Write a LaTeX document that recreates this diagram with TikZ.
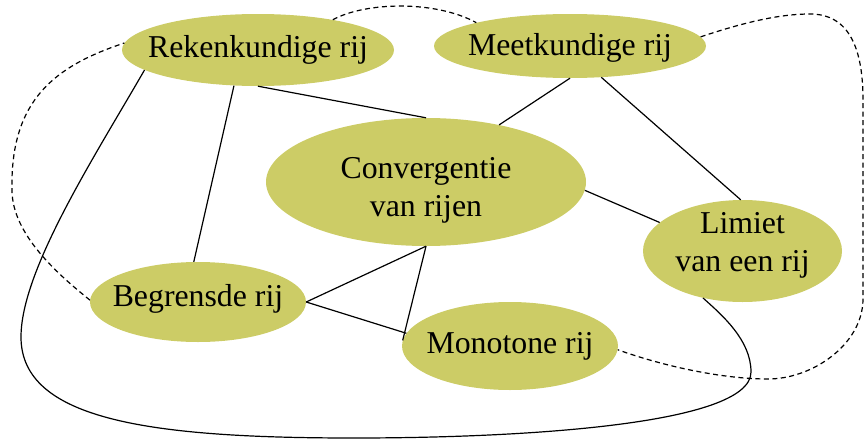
\documentclass[tikz,border=0pt]{standalone}
\usepackage{fontspec}
\setmainfont{Liberation Serif}
\usetikzlibrary{shapes.geometric}
\definecolor{bubblefill}{RGB}{204,204,102}
\newcommand{\bubbletext}[1]{\makebox[0pt]{\begin{tabular}[t]{@{}c@{}}#1\end{tabular}}}
\begin{document}
\begin{tikzpicture}[x=1pt,y=-1pt,
  bubble/.style={ellipse, fill=bubblefill, inner sep=0pt, font=\fontsize{31.8}{38}\selectfont},
  link/.style={line width=1.2pt, black},
  dlink/.style={line width=1.2pt, black, dash pattern=on 5pt off 3.5pt}]
\useasboundingbox (0,0) rectangle (866,439);

\node[bubble, minimum width=272pt, minimum height=72pt, text height=20pt, text depth=6pt] (rek) at (258,50) {\bubbletext{Rekenkundige rij}};
\node[bubble, minimum width=272pt, minimum height=64pt, text height=22pt, text depth=4pt] (meet) at (570,46) {\bubbletext{Meetkundige rij}};
\node[bubble, minimum width=320pt, minimum height=128pt, text height=10pt, text depth=18pt] (conv) at (426,182) {\bubbletext{Convergentie\\van rijen}};
\node[bubble, minimum width=199pt, minimum height=102pt, text height=2pt, text depth=38pt] (lim) at (742.5,251) {\bubbletext{Limiet\\van een rij}};
\node[bubble, minimum width=216pt, minimum height=80pt, text height=14pt, text depth=6pt] (beg) at (198,302) {\bubbletext{Begrensde rij}};
\node[bubble, minimum width=216pt, minimum height=88pt, text height=20pt, text depth=6pt] (mono) at (510,346) {\bubbletext{Monotone rij}};

% solid connectors
\draw[link] (rek.236) -- (beg.96);
\draw[link] (rek.south) -- (conv.north);
\draw[link] (meet.south) -- (conv.38);
\draw[link] (meet.315) -- (lim.92);
\draw[link] (conv.-3) -- (lim.161);
\draw[link] (conv.south) -- (beg.east);
\draw[link] (conv.south) -- (mono.177);
\draw[link] (beg.east) -- (mono.173);

% long solid curve
\coordinate (w1) at (21,337);
\coordinate (w2) at (354,438);
\coordinate (w3) at (751,372);
\draw[link] (rek.190) .. controls (95,156) and (21,270) .. (w1)
  .. controls (21,420) and (150,438) .. (w2)
  .. controls (520,438) and (751,425) .. (w3)
  .. controls (751,340) and (722,315) .. (lim.230);

% dashed curves
\coordinate (v1) at (12,190);
\draw[dlink] (beg.179) .. controls (60,276) and (12,235) .. (v1)
  .. controls (10,100) and (55,66) .. (rek.177);
\draw[dlink] (rek.22) .. controls (365,2) and (435,0) .. (meet.166);
\coordinate (u1) at (810,14);
\coordinate (u2) at (863,100);
\coordinate (u3) at (863,300);
\coordinate (u4) at (768,379);
\draw[dlink] (meet.4) .. controls (745,22) and (780,14) .. (u1)
  .. controls (850,14) and (863,50) .. (u2)
  .. controls (863,180) and (863,250) .. (u3)
  .. controls (862,345) and (812,379) .. (u4)
  .. controls (720,379) and (660,365) .. (mono.358);
\end{tikzpicture}
\end{document}
